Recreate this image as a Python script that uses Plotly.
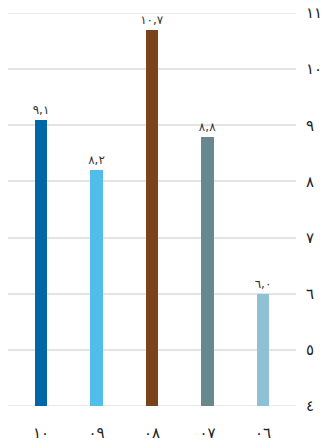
import plotly.graph_objects as go

# Years (Arabic-Indic digits) and their values
years = ["١٠", "٠٩", "٠٨", "٠٧", "٠٦"]
values = [9.1, 8.2, 10.7, 8.8, 6.0]
value_labels = ["٩,١", "٨,٢", "١٠,٧", "٨,٨", "٦,٠"]
bar_colors = ["#0066a6", "#50bdea", "#7b431b", "#688890", "#8ec1d3"]

y_ticks = [4, 5, 6, 7, 8, 9, 10, 11]
y_tick_labels = ["٤", "٥", "٦", "٧", "٨", "٩", "١٠", "١١"]

font_family = "DejaVu Sans"
grid_color = "#e3e3e3"

fig = go.Figure(
    go.Bar(
        x=list(range(len(years))),
        y=values,
        base=0,
        width=0.22,
        marker=dict(color=bar_colors, line=dict(width=0)),
        text=value_labels,
        textposition="outside",
        constraintext="none",
        textfont=dict(family=font_family, size=12, color="#333333"),
        cliponaxis=False,
        hoverinfo="skip",
    )
)

# Plotly drops gridlines that sit on the range edges; draw those two as lines
for edge in (y_ticks[0], y_ticks[-1]):
    fig.add_shape(
        type="line", xref="paper", yref="y",
        x0=0, x1=1, y0=edge, y1=edge,
        line=dict(color=grid_color, width=1.5),
        layer="below",
    )

fig.update_layout(
    width=323,
    height=448,
    margin=dict(l=8, r=27, t=13, b=42, autoexpand=False),
    paper_bgcolor="white",
    plot_bgcolor="white",
    showlegend=False,
    bargap=0,
    uniformtext=dict(mode=False),
    xaxis=dict(
        range=[-0.595, 4.595],
        tickmode="array",
        tickvals=list(range(len(years))),
        ticktext=years,
        ticks="outside",
        ticklen=13,
        tickcolor="rgba(0,0,0,0)",
        tickfont=dict(family=font_family, size=15, color="#222222"),
        showgrid=False,
        zeroline=False,
        showline=False,
        automargin=False,
        fixedrange=True,
    ),
    yaxis=dict(
        range=[y_ticks[0], y_ticks[-1]],
        side="right",
        tickmode="array",
        tickvals=y_ticks,
        ticktext=y_tick_labels,
        ticks="outside",
        ticklen=6,
        tickcolor="rgba(0,0,0,0)",
        tickfont=dict(family=font_family, size=15, color="#222222"),
        showgrid=True,
        gridcolor=grid_color,
        gridwidth=1.5,
        zeroline=False,
        showline=False,
        automargin=False,
        fixedrange=True,
    ),
)

fig.write_html("out.html", config={"displayModeBar": False})
